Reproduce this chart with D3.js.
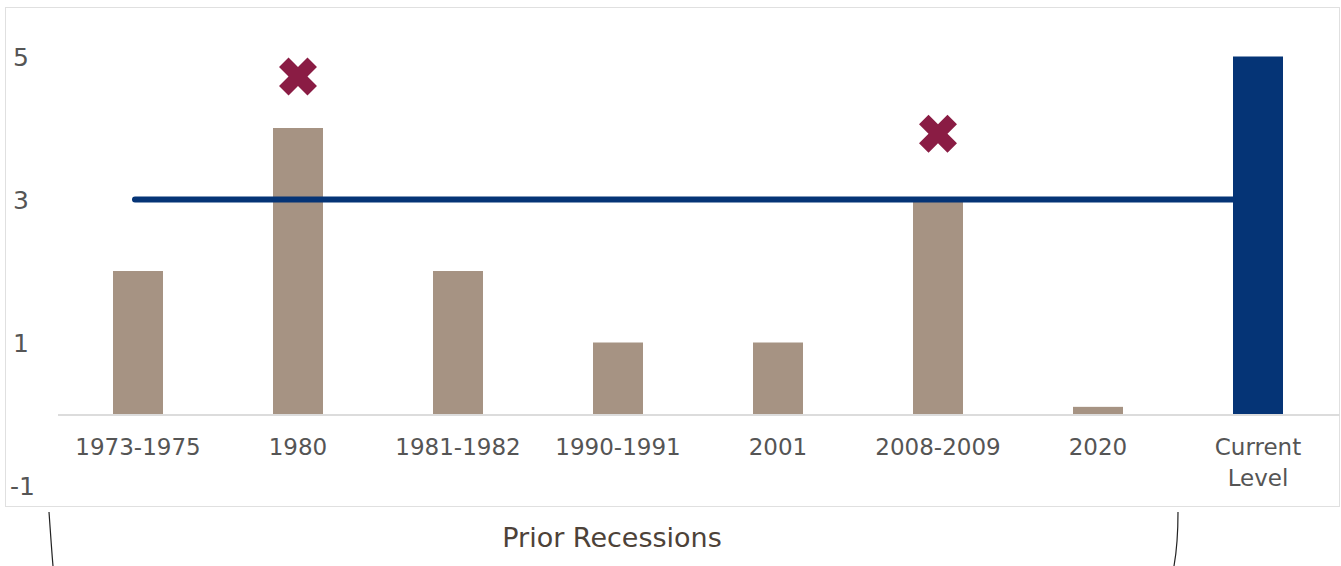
<!DOCTYPE html>
<html><head><meta charset="utf-8">
<script src="https://cdn.jsdelivr.net/npm/d3@7"></script>
<style>html,body{margin:0;padding:0;background:#fff;}svg{display:block;}</style>
</head><body>
<script>
const categories = ["1973-1975","1980","1981-1982","1990-1991","2001","2008-2009","2020","Current Level"];
const values = [2, 4, 2, 1, 1, 3, 0.1, 5];
const markerCats = ["1980","2008-2009"];
const markerValues = [4.72, 3.92];
const lineValue = 3;
const yTicks = [5, 3, 1, -1];
const bracketLabel = "Prior Recessions";

const W = 1341, H = 566;
const svg = d3.select("body").append("svg").attr("width", W).attr("height", H);
const font = "'DejaVu Sans', 'Noto Sans', sans-serif";

svg.append("rect").attr("x", 5.5).attr("y", 7.5).attr("width", 1334).attr("height", 499)
  .attr("fill", "none").attr("stroke", "#e0e0e0").attr("stroke-width", 1);

const x = d3.scaleBand().domain(categories).range([58, 1338]).paddingInner(0.6875).paddingOuter(0.34375);
const y = d3.scaleLinear().domain([-1, 5]).range([485.5, 56.5]);

// baseline
svg.append("line").attr("x1", 58).attr("x2", 1340).attr("y1", y(0) + 1).attr("y2", y(0) + 1)
  .attr("stroke", "#dcdcdc").attr("stroke-width", 2);

// bars
svg.selectAll("rect.bar").data(categories).join("rect").attr("class", "bar")
  .attr("x", d => x(d)).attr("width", x.bandwidth())
  .attr("y", (d, i) => y(values[i])).attr("height", (d, i) => y(0) - y(values[i]))
  .attr("fill", (d, i) => i === categories.length - 1 ? "#053476" : "#a69383");

// horizontal line
svg.append("line")
  .attr("x1", x(categories[0]) + x.bandwidth() / 2 - 3)
  .attr("x2", x(categories[categories.length - 1]))
  .attr("y1", y(lineValue)).attr("y2", y(lineValue))
  .attr("stroke", "#053476").attr("stroke-width", 6).attr("stroke-linecap", "round");

// markers (filled X = cross rotated 45deg)
const xSym = d3.symbol().type(d3.symbolCross).size(900);
svg.selectAll("path.mk").data(markerCats).join("path").attr("class", "mk")
  .attr("d", xSym)
  .attr("transform", (d, i) => `translate(${x(d) + x.bandwidth() / 2},${y(markerValues[i])}) rotate(45)`)
  .attr("fill", "#8a1c44");

// y axis labels
svg.selectAll("text.yl").data(yTicks).join("text").attr("class", "yl")
  .attr("x", d => d < 0 ? 10 : 13).attr("y", d => y(d) + 9)
  .attr("font-family", font).attr("font-size", 25).attr("fill", "#555")
  .text(d => d);

// x labels
svg.selectAll("text.xl").data(categories).join("text").attr("class", "xl")
  .attr("x", d => x(d) + x.bandwidth() / 2)
  .attr("text-anchor", "middle")
  .attr("font-family", font).attr("font-size", 23).attr("fill", "#555")
  .each(function(d) {
    const words = d === "Current Level" ? ["Current", "Level"] : [d];
    d3.select(this).selectAll("tspan").data(words).join("tspan")
      .attr("x", x(d) + x.bandwidth() / 2)
      .attr("y", (w, j) => 455 + j * 31)
      .text(w => w);
  });

// bracket
const lx = 49, rx = 1178;
svg.append("path").attr("d", `M${lx},512 C${lx+2},540 ${lx+3},555 ${lx+4},566`)
  .attr("fill", "none").attr("stroke", "#222").attr("stroke-width", 1.2);
svg.append("path").attr("d", `M${rx},512 C${rx},540 ${rx-2},555 ${rx-4},566`)
  .attr("fill", "none").attr("stroke", "#222").attr("stroke-width", 1.2);
svg.append("text").attr("x", 612).attr("y", 547).attr("text-anchor", "middle")
  .attr("font-family", font).attr("font-size", 27).attr("fill", "#4d4238")
  .text(bracketLabel);
</script>
</body></html>
